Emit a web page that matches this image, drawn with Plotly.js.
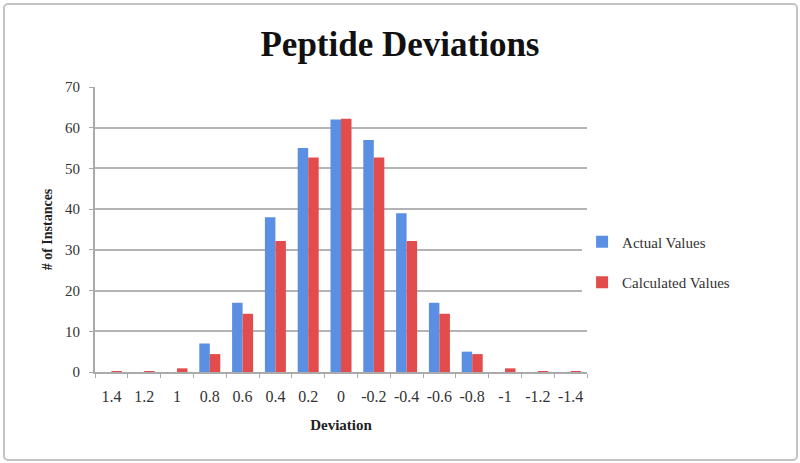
<!DOCTYPE html>
<html>
<head>
<meta charset="utf-8">
<script src="https://cdn.plot.ly/plotly-3.0.1.min.js"></script>
<style>
  body { margin: 0; background: #fff; }
  #myDiv { position: absolute; left: 0; top: 0; width: 800px; height: 463px; }
  #frame { position: absolute; left: 3px; top: 3px; width: 791px; height: 454px;
           border: 2px solid #c4c4c4; border-radius: 5px; pointer-events: none; }
</style>
</head>
<body>
<div id="myDiv"></div>
<div id="frame"></div>
<script>
var deviations = ['1.4', '1.2', '1', '0.8', '0.6', '0.4', '0.2', '0', '-0.2', '-0.4', '-0.6', '-0.8', '-1', '-1.2', '-1.4'];
var actualValues = [0, 0, 0, 7, 17, 38, 55, 62, 57, 39, 17, 5, 0, 0, 0];
var calculatedValues = [0.1, 0.2, 0.9, 4.4, 14.3, 32.2, 52.7, 62.2, 52.7, 32.2, 14.3, 4.4, 0.9, 0.2, 0.1];

var serif = '"Liberation Serif", "DejaVu Serif", serif';

var trace1 = {
    x: deviations,
    y: actualValues,
    name: 'Actual Values',
    legendgroup: 'actual',
    type: 'bar',
    marker: { color: '#5a8fe3' }
};

var trace2 = {
    x: deviations,
    y: calculatedValues,
    name: 'Calculated Values',
    legendgroup: 'calc',
    type: 'bar',
    marker: { color: '#e24c4c' }
};

var data = [trace1, trace2];

var layout = {
    width: 800,
    height: 463,
    barmode: 'group',
    bargap: 0.36,
    bargroupgap: 0,
    paper_bgcolor: '#fff',
    plot_bgcolor: '#fff',
    font: { family: serif, color: '#333', size: 15 },
    title: {
        text: '<b>Peptide Deviations</b>',
        font: { family: serif, size: 35, color: '#111' },
        x: 0.5,
        xanchor: 'center',
        y: 0.905,
        yanchor: 'middle'
    },
    xaxis: {
        type: 'category',
        title: { text: '<b>Deviation</b>', font: { family: serif, size: 15, color: '#222' }, standoff: 15 },
        showline: true,
        linecolor: '#aaa',
        linewidth: 2,
        ticks: 'outside',
        tickson: 'boundaries',
        ticklen: 4,
        tickcolor: '#aaa',
        tickangle: 0,
        ticklabelstandoff: 9,
        tickfont: { family: serif, size: 16, color: '#333' },
        showgrid: false
    },
    yaxis: {
        range: [0, 70],
        dtick: 10,
        title: { text: '<b># of Instances</b>', font: { family: serif, size: 14, color: '#222' }, standoff: 9 },
        showline: true,
        linecolor: '#aaa',
        linewidth: 2,
        gridcolor: '#b4b4b4',
        gridwidth: 2,
        zeroline: false,
        ticks: 'outside',
        ticklen: 4,
        tickcolor: '#aaa',
        ticklabelstandoff: 6,
        tickfont: { family: serif, size: 15, color: '#333' }
    },
    legend: {
        x: 0.99,
        y: 0.386,
        xanchor: 'left',
        yanchor: 'middle',
        font: { family: serif, size: 15, color: '#333' },
        tracegroupgap: 18,
        itemwidth: 30
    },
    margin: {
        l: 95,
        r: 213,
        b: 91,
        t: 87,
        pad: 0
    }
};

var config = {
    displayModeBar: false
};

Plotly.newPlot('myDiv', data, layout, config);
</script>
</body>
</html>
